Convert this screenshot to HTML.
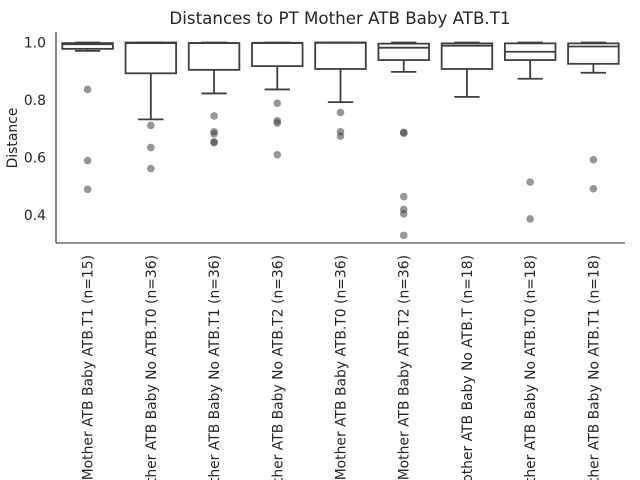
<!DOCTYPE html>
<html><head><meta charset="utf-8"><style>
html,body{margin:0;padding:0;background:#fff;overflow:hidden}
svg{display:block;font-family:"DejaVu Sans","Liberation Sans",sans-serif}
</style></head><body>
<svg id="chart" width="640" height="480" viewBox="0 0 640 480" xmlns="http://www.w3.org/2000/svg">
<rect width="640" height="480" fill="#fff"/>
<text x="340" y="24" text-anchor="middle" font-size="16.7" fill="#262626">Distances to PT Mother ATB Baby ATB.T1</text>
<text transform="translate(17,138) rotate(-90)" text-anchor="middle" font-size="13.9" fill="#262626">Distance</text>
<g id="plot"></g>
</svg>
<script>
const categories = ["PT Mother ATB Baby ATB.T1 (n=15)","PT Mother ATB Baby No ATB.T0 (n=36)","PT Mother ATB Baby No ATB.T1 (n=36)","PT Mother ATB Baby No ATB.T2 (n=36)","PT Mother ATB Baby ATB.T0 (n=36)","PT Mother ATB Baby ATB.T2 (n=36)","PT Mother ATB Baby No ATB.T (n=18)","PT Mother ATB Baby No ATB.T0 (n=18)","PT Mother ATB Baby No ATB.T1 (n=18)"];
const whiskerLow = [0.971,0.733,0.823,0.837,0.793,0.898,0.811,0.874,0.895];
const q1 = [0.978,0.893,0.905,0.918,0.908,0.939,0.908,0.939,0.926];
const median = [0.994,0.998,0.998,0.999,0.999,0.982,0.989,0.968,0.986];
const q3 = [0.998,1.0,0.998,0.998,1.0,0.996,0.997,0.997,0.997];
const whiskerHigh = [1.0,1.0,1.0,1.0,1.0,1.0,1.0,1.0,1.0];
const outliers = [[0.837,0.59,0.49],[0.712,0.635,0.562],[0.745,0.69,0.683,0.655,0.652],[0.789,0.728,0.72,0.61],[0.757,0.69,0.675],[0.688,0.685,0.465,0.42,0.405,0.33],[],[0.515,0.387],[0.593,0.492]];
const yTicks = [0.4,0.6,0.8,1.0];
const yTickLabels = ["0.4","0.6","0.8","1.0"];

const L=56,R=625,T=32,B=243;
const yMin=0.3035,yMax=1.0365;
const y=v=>B-(v-yMin)/(yMax-yMin)*(B-T);
const band=(R-L)/categories.length;
const x=i=>L+band*(i+0.5);
const NS="http://www.w3.org/2000/svg";
const g=document.getElementById('plot');
function mk(tag,attrs,parent){const e=document.createElementNS(NS,tag);for(const k in attrs)e.setAttribute(k,attrs[k]);(parent||g).appendChild(e);return e;}
const col="#3f3f3f";
let ax=mk('line',{x1:L,y1:T,x2:L,y2:B,stroke:"#262626","stroke-width":1.1});


let bx=mk('line',{x1:L,y1:B,x2:R,y2:B,stroke:"#262626","stroke-width":1.1});


yTicks.forEach((t,i)=>{
  const tx=mk('text',{x:L-10,y:y(t)+5,"text-anchor":"end","font-size":13.9,fill:"#262626"});
  tx.textContent=yTickLabels[i];
  
  
});
const bw=band*0.8;
categories.forEach((c,i)=>{
  const cx=x(i);
  const grp=mk('g',{});
  
  
  mk('line',{x1:cx,y1:y(q1[i]),x2:cx,y2:y(whiskerLow[i]),stroke:col,"stroke-width":1.8},grp);
  mk('line',{x1:cx,y1:y(q3[i]),x2:cx,y2:y(whiskerHigh[i]),stroke:col,"stroke-width":1.8},grp);
  mk('line',{x1:cx-bw/4,y1:y(whiskerLow[i]),x2:cx+bw/4,y2:y(whiskerLow[i]),stroke:col,"stroke-width":1.8},grp);
  mk('line',{x1:cx-bw/4,y1:y(whiskerHigh[i]),x2:cx+bw/4,y2:y(whiskerHigh[i]),stroke:col,"stroke-width":1.8},grp);
  mk('rect',{x:cx-bw/2,y:y(q3[i]),width:bw,height:y(q1[i])-y(q3[i]),fill:"#fff",stroke:col,"stroke-width":1.8},grp);
  mk('line',{x1:cx-bw/2,y1:y(median[i]),x2:cx+bw/2,y2:y(median[i]),stroke:col,"stroke-width":1.8},grp);
  outliers[i].forEach(v=>{
    const p=mk('circle',{cx:cx,cy:y(v),r:3.8,fill:"#3f3f3f","fill-opacity":0.55,stroke:"none"},grp);
    
    
  });
  const lab=mk('text',{transform:`translate(${cx+5},255) rotate(-90)`,"text-anchor":"end","font-size":13.9,fill:"#262626"});
  lab.textContent=c;
  
  
});
</script>
</body></html>
